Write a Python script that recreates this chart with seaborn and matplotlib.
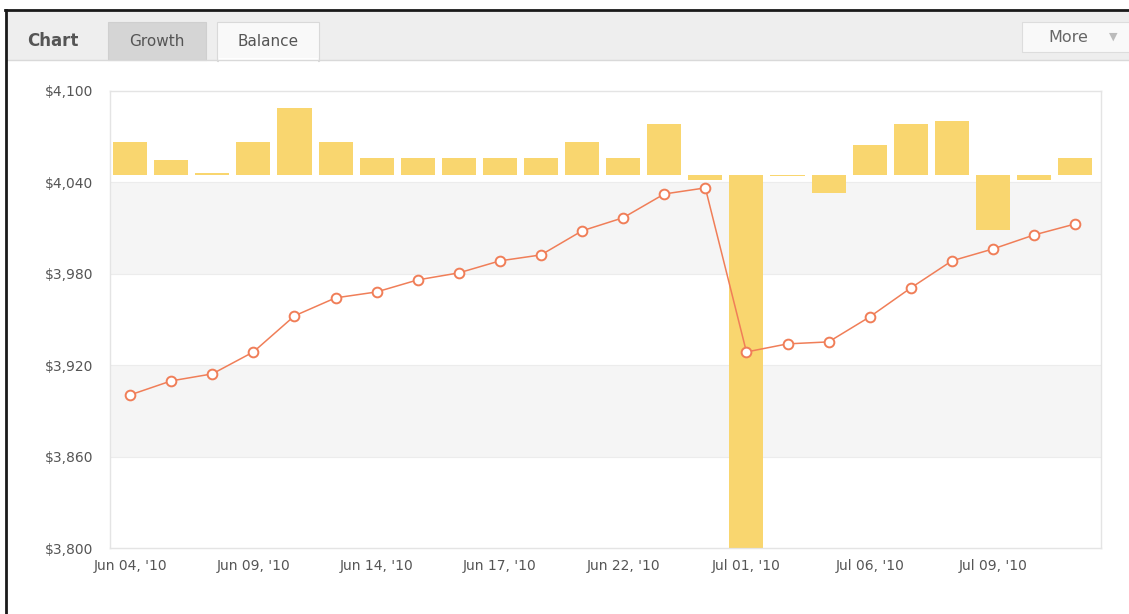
import numpy as np
import pandas as pd
import seaborn as sns
import matplotlib.pyplot as plt
from matplotlib.patches import Rectangle
from matplotlib.lines import Line2D
from matplotlib.ticker import FuncFormatter

# daily data (trading days)
dates = ["Jun 04, '10", "Jun 07, '10", "Jun 08, '10", "Jun 09, '10", "Jun 10, '10", "Jun 11, '10",
         "Jun 14, '10", "Jun 15, '10", "Jun 16, '10", "Jun 17, '10", "Jun 18, '10", "Jun 21, '10",
         "Jun 22, '10", "Jun 23, '10", "Jun 24, '10", "Jul 01, '10", "Jul 02, '10", "Jul 05, '10",
         "Jul 06, '10", "Jul 07, '10", "Jul 08, '10", "Jul 09, '10", "Jul 12, '10", "Jul 13, '10"]
balance = [3900.5, 3909.7, 3914.3, 3928.7, 3952.4, 3964.2, 3968.1, 3976.0, 3980.6, 3988.5,
           3992.4, 4008.2, 4016.8, 4032.4, 4036.4, 3928.7, 3934.0, 3935.3, 3951.7, 3970.7,
           3988.5, 3996.3, 4005.5, 4012.7]
profit = [9.5, 4.3, 0.6, 9.5, 19.4, 9.5, 4.9, 4.9, 4.9, 4.9, 4.9, 9.5, 4.9, 14.8, -1.4,
          -108.0, -0.3, -5.2, 8.7, 14.8, 15.7, -15.9, -1.4, 4.9]
tick_every = 3
y_ticks = [3800, 3860, 3920, 3980, 4040, 4100]

df = pd.DataFrame({"date": dates, "balance": balance, "profit": profit})
df["i"] = np.arange(len(df))

W, H = 1129, 614
fig = plt.figure(figsize=(W / 100, H / 100), dpi=100)
fig.patch.set_facecolor("white")


def fx(x):
    return x / W


def fy(y):
    return 1 - y / H


def box(x0, y0, x1, y1, **kw):
    fig.add_artist(Rectangle((fx(x0), fy(y1)), fx(x1) - fx(x0), fy(y0) - fy(y1),
                             transform=fig.transFigure, **kw))


def hline(x0, x1, y, **kw):
    fig.add_artist(Line2D([fx(x0), fx(x1)], [fy(y), fy(y)], transform=fig.transFigure, **kw))


# header strip with tabs
box(7, 11, W, 60, facecolor="#eeeeee", edgecolor="none")
hline(7, W, 60, color="#d9d9d9", lw=1)
box(108, 22, 206, 60, facecolor="#d5d5d5", edgecolor="#cfcfcf", lw=0.8)
box(217, 22, 319, 61, facecolor="#f9f9f9", edgecolor="#d9d9d9", lw=0.8)
box(218.5, 58, 317.5, 64, facecolor="#ffffff", edgecolor="none")
box(1022, 22, 1135, 52, facecolor="#f9f9f9", edgecolor="#dddddd", lw=0.8)
fig.text(fx(27), fy(41), "Chart", fontsize=12, fontweight="bold", color="#555555", va="center")
fig.text(fx(157), fy(42), "Growth", fontsize=11, color="#555555", va="center", ha="center")
fig.text(fx(268), fy(42), "Balance", fontsize=11, color="#555555", va="center", ha="center")
fig.text(fx(1068), fy(37), "More", fontsize=11.5, color="#666666", va="center", ha="center")
fig.text(fx(1113), fy(37), "\u25bc", fontsize=8, color="#bbbbbb", va="center", ha="center")

# outer frame
hline(5, W, 10, color="#1a1a1a", lw=2)
fig.add_artist(Line2D([fx(6), fx(6)], [fy(10), fy(H)], transform=fig.transFigure, color="#1a1a1a", lw=2))

# plot area
ax = fig.add_axes([fx(110), fy(548), fx(1101) - fx(110), fy(91) - fy(548)])
ax.set_facecolor("white")
ylo, yhi = y_ticks[0], y_ticks[-1]
for k in range(len(y_ticks) - 1):
    if k % 2 == 1:
        ax.axhspan(y_ticks[k], y_ticks[k + 1], color="#f5f5f5", lw=0, zorder=0)
for t in y_ticks[1:-1]:
    ax.axhline(t, color="#ececec", lw=0.8, zorder=0.5)

# bars on their own scale
axb = ax.twinx()
axb.yaxis.set_visible(False)
sns.barplot(data=df, x="i", y="profit", color="#f9d66f", saturation=1, width=0.83,
            ax=axb, zorder=2, native_scale=True)
axb.set_ylim(-108, 24.3)

# balance line on top
axl = ax.twinx()
sns.lineplot(data=df, x="i", y="balance", color="#f07e58", lw=1.1, marker="o",
             markersize=7, markerfacecolor="white", markeredgecolor="#f07e58",
             markeredgewidth=1.4, ax=axl, zorder=3)
axl.set_ylim(ylo, yhi)
axl.yaxis.tick_left()
axl.yaxis.set_label_position("left")
axl.set_yticks(y_ticks)
axl.yaxis.set_major_formatter(FuncFormatter(lambda v, p: f"${v:,.0f}"))
axl.tick_params(axis="y", length=0, pad=12, labelsize=10, labelcolor="#555555")
axl.set_ylabel("")

ax.set_ylim(ylo, yhi)
ax.set_yticks([])
for a in (ax, axb, axl):
    a.set_xlim(-0.49, len(df) - 1 + 0.63)
    a.set_xlabel("")
    for s in a.spines.values():
        s.set_color("#e4e4e4")
        s.set_linewidth(0.8)

tick_pos = df["i"][::tick_every].tolist()
ax.set_xticks(tick_pos)
ax.set_xticklabels(df["date"][::tick_every].tolist())
ax.tick_params(axis="x", length=0, pad=8, labelsize=10, labelcolor="#555555")
axb.tick_params(axis="x", length=0, labelbottom=False)
axl.tick_params(axis="x", length=0, labelbottom=False)

fig.savefig("out.png", dpi=100)
